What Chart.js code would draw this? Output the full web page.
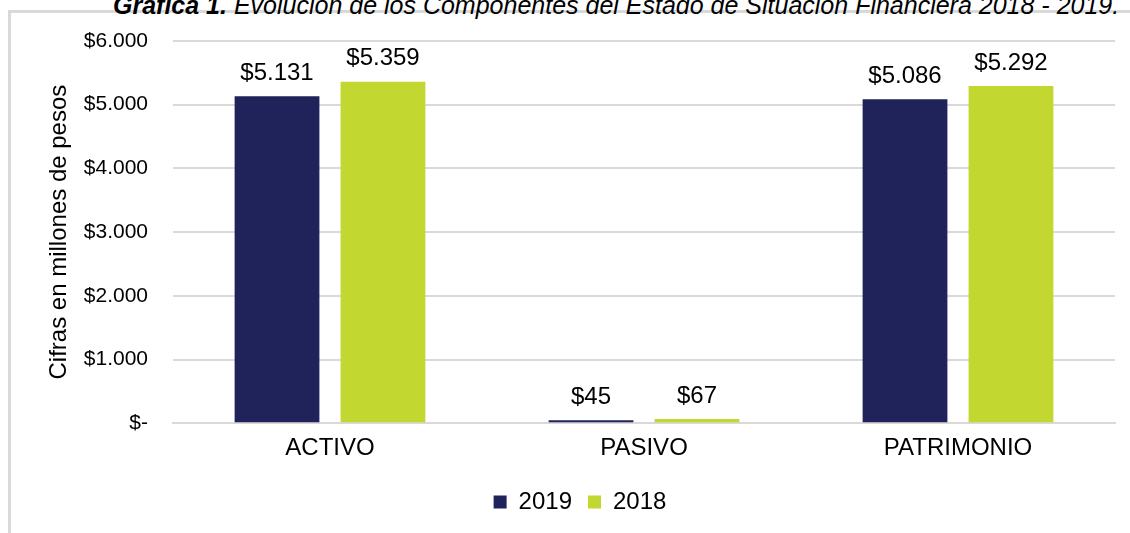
<!DOCTYPE html>
<html>
<head>
<meta charset="utf-8">
<script src="https://cdn.jsdelivr.net/npm/chart.js@4"></script>
<style>
  body { margin: 0; background: #fff; overflow: hidden; }
  #box { position: absolute; left: 8px; top: 10px; width: 1130px; height: 530px;
         border-left: 3px solid #d9d9d9; border-top: 3px solid #d9d9d9; }
  #titulo { position: absolute; left: 113px; top: -9px; white-space: nowrap;
            font-family: "Liberation Sans", Arial, sans-serif; font-style: italic;
            font-size: 25px; color: #000; }
  #wrap { position: absolute; left: 0; top: 0; width: 1130px; height: 533px; }
</style>
</head>
<body>
<div id="box"></div>
<div id="titulo"><b>Gráfica 1.</b> Evolución de los Componentes del Estado de Situación Financiera 2018 - 2019.</div>
<div id="wrap"><canvas id="barchart" width="1130" height="533"></canvas></div>
<script>
const categorias = ['ACTIVO', 'PASIVO', 'PATRIMONIO'];
const valores2019 = [5131, 45, 5086];
const valores2018 = [5359, 67, 5292];
const ticksY = [0, 1000, 2000, 3000, 4000, 5000, 6000];

const fuente = '"Liberation Sans", Arial, sans-serif';

function pesos(v) {
    if (v === 0) return '$-';
    return '$' + v.toLocaleString('de-DE');
}

// etiquetas encima de cada barra
const etiquetas = {
    id: 'etiquetas',
    afterDatasetsDraw(chart) {
        const ctx = chart.ctx;
        ctx.save();
        ctx.font = '24px ' + fuente;
        ctx.fillStyle = '#000';
        ctx.textAlign = 'center';
        ctx.textBaseline = 'bottom';
        chart.data.datasets.forEach((ds, i) => {
            chart.getDatasetMeta(i).data.forEach((bar, j) => {
                ctx.fillText(pesos(ds.data[j]), bar.x, bar.y - 11);
            });
        });
        ctx.restore();
    }
};

const ctx = document.getElementById('barchart').getContext('2d');
new Chart(ctx, {
    type: 'bar',
    data: {
        labels: categorias,
        datasets: [
            {
                label: '2019',
                data: valores2019,
                backgroundColor: '#1F2359',
                categoryPercentage: 0.675,
                barPercentage: 0.8
            },
            {
                label: '2018',
                data: valores2018,
                backgroundColor: '#C2D72F',
                categoryPercentage: 0.675,
                barPercentage: 0.8
            }
        ]
    },
    options: {
        responsive: false,
        animation: false,
        layout: { padding: { left: 45, right: 15, top: 41, bottom: 9 } },
        plugins: {
            legend: {
                position: 'bottom',
                labels: {
                    boxWidth: 13, boxHeight: 13, padding: 16,
                    color: '#000',
                    font: { family: fuente, size: 24 }
                }
            },
            tooltip: { enabled: false }
        },
        scales: {
            x: {
                grid: { display: false, drawTicks: false },
                border: { color: '#d9d9d9', width: 2 },
                ticks: {
                    padding: 11,
                    color: '#000',
                    font: { family: fuente, size: 24 }
                }
            },
            y: {
                min: 0,
                max: 6000,
                afterBuildTicks: axis => { axis.ticks = ticksY.map(v => ({ value: v })); },
                afterFit: axis => { axis.width = 128; },
                grid: { color: '#d9d9d9', lineWidth: 2, drawTicks: false },
                border: { display: false },
                title: {
                    display: true,
                    text: 'Cifras en millones de pesos',
                    color: '#000',
                    padding: { top: 0, bottom: 0 },
                    font: { family: fuente, size: 24 }
                },
                ticks: {
                    padding: 25,
                    color: '#000',
                    font: { family: fuente, size: 21 },
                    callback: v => pesos(v)
                }
            }
        }
    },
    plugins: [etiquetas]
});
</script>
</body>
</html>
